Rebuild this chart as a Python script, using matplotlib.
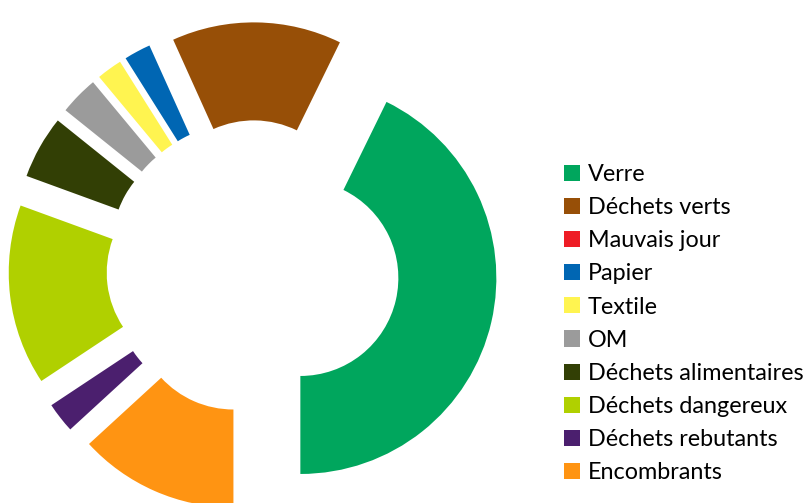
import matplotlib
matplotlib.use('Agg')
import matplotlib.pyplot as plt

# categories, listed counterclockwise from 6 o'clock
labels = ['Verre', 'Déchets verts', 'Mauvais jour', 'Papier', 'Textile', 'OM',
          'Déchets alimentaires', 'Déchets dangereux', 'Déchets rebutants', 'Encombrants']
shares = [42.8, 14.0, 0.0, 2.2, 2.1, 3.2, 5.2, 14.9, 2.5, 13.2]
colors = ['#00a65d', '#974f07', '#ee1c25', '#0066b3', '#fff450', '#9b9b9b',
          '#323f05', '#b0d000', '#4b1f6e', '#ff9412']

W, H = 805, 503
cx, cy, r = 253, 267, 196  # pie centre and radius in pixels

fig = plt.figure(figsize=(W / 100, H / 100), dpi=100)
ax = fig.add_axes([0, 0, 1, 1])

wedges, _ = ax.pie(shares, colors=colors, startangle=270, counterclock=True,
                   explode=[0.248] * len(shares), radius=1,
                   wedgeprops=dict(width=0.5, linewidth=0))

ax.set_aspect('auto')
ax.set_xlim(-cx / r, (W - cx) / r)
ax.set_ylim(-(H - cy) / r, cy / r)
ax.axis('off')

leg = ax.legend(wedges, labels, loc='upper left', bbox_to_anchor=(564 / W, 1 - 164 / H),
                bbox_transform=fig.transFigure, frameon=False,
                prop={'family': 'Lato', 'size': 16.8},
                handlelength=0.69, handleheight=0.69, handletextpad=0.34,
                labelspacing=0.52, borderpad=0, borderaxespad=0)

fig.savefig('out.png', dpi=100)
